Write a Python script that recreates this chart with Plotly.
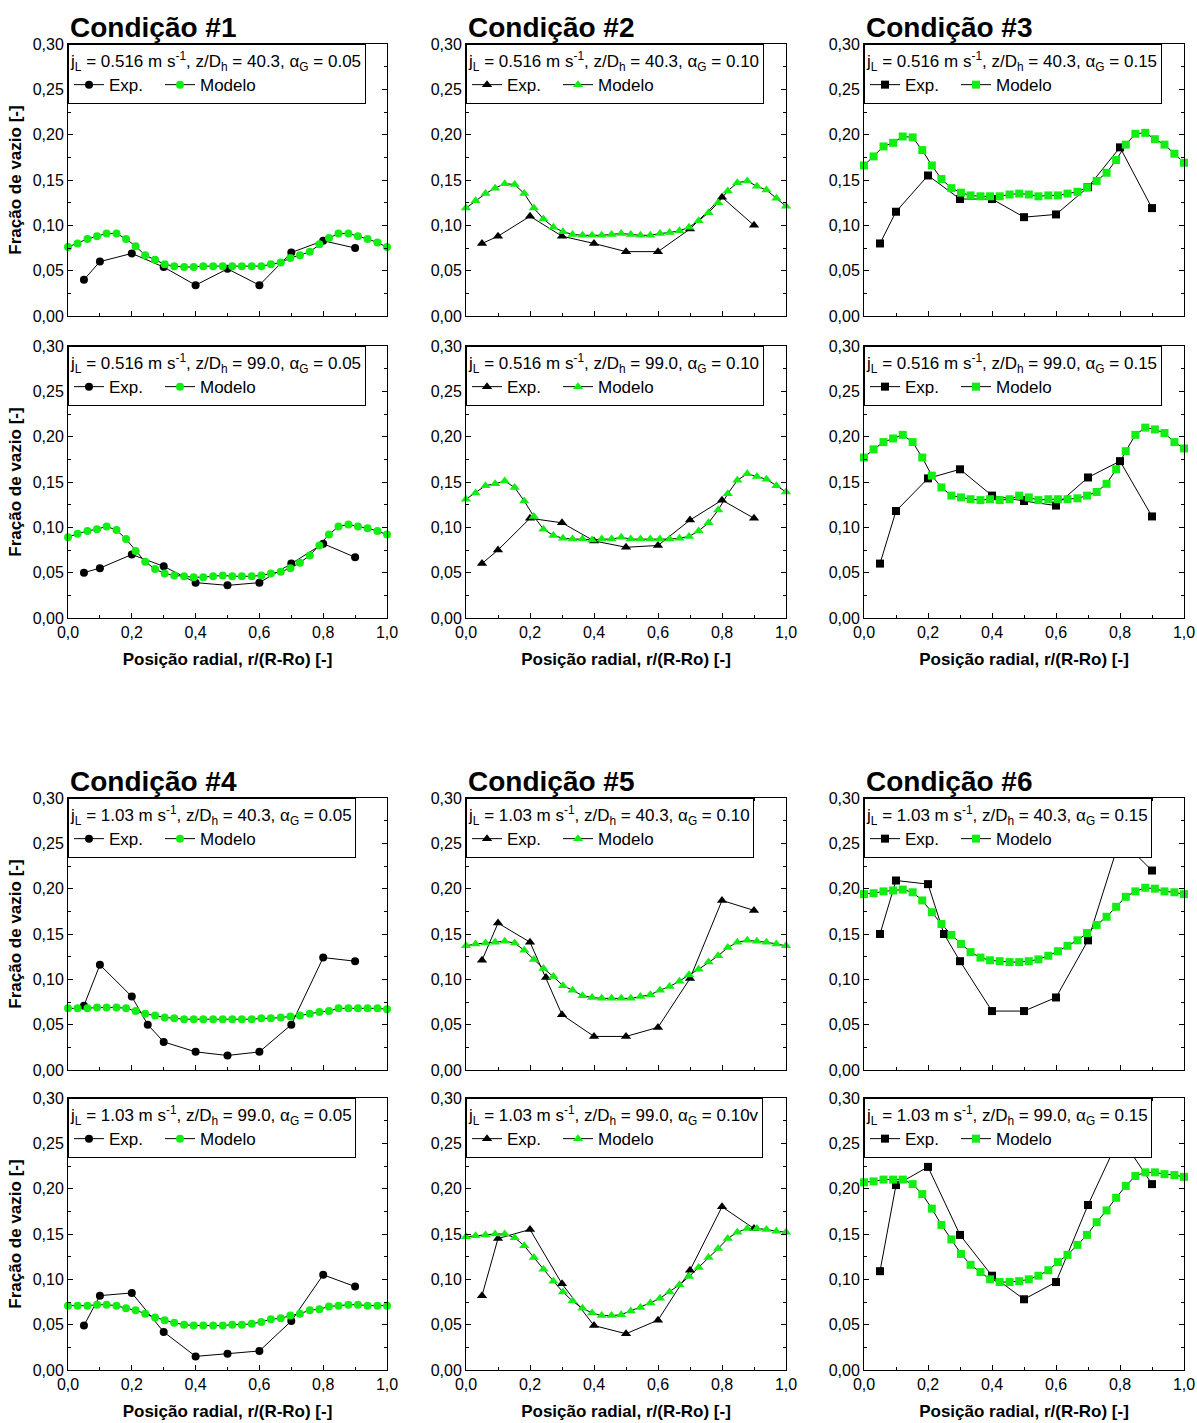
import plotly.graph_objects as go
from plotly.subplots import make_subplots

# ---------------- data ----------------
X_MODEL = [0.000, 0.030, 0.061, 0.091, 0.121, 0.152, 0.182, 0.212, 0.242, 0.273, 0.303, 0.333,
           0.364, 0.394, 0.424, 0.455, 0.485, 0.515, 0.545, 0.576, 0.606, 0.636, 0.667, 0.697,
           0.727, 0.758, 0.788, 0.818, 0.848, 0.879, 0.909, 0.939, 0.970, 1.000]
X_EXP = [0.05, 0.1, 0.2, 0.3, 0.4, 0.5, 0.6, 0.7, 0.8, 0.9]
X_EXP_B = [0.05, 0.1, 0.2, 0.25, 0.3, 0.4, 0.5, 0.6, 0.7, 0.8, 0.9]

X_TICKS = [0.0, 0.2, 0.4, 0.6, 0.8, 1.0]
Y_TICKS = [0.00, 0.05, 0.10, 0.15, 0.20, 0.25, 0.30]

C1_40_EXP = [0.040, 0.060, 0.069, 0.054, 0.034, 0.052, 0.034, 0.070, 0.083, 0.075]
C1_40_MOD = [0.076, 0.080, 0.085, 0.088, 0.091, 0.091, 0.085, 0.077, 0.067, 0.062, 0.057, 0.055,
             0.054, 0.054, 0.055, 0.055, 0.055, 0.055, 0.055, 0.055, 0.055, 0.057, 0.059, 0.064,
             0.067, 0.071, 0.079, 0.086, 0.091, 0.091, 0.088, 0.085, 0.081, 0.076]
C2_40_EXP = [0.080, 0.088, 0.110, 0.088, 0.080, 0.071, 0.071, 0.096, 0.131, 0.100]
C2_40_MOD = [0.119, 0.127, 0.135, 0.141, 0.146, 0.145, 0.135, 0.119, 0.107, 0.098, 0.093, 0.090,
             0.089, 0.089, 0.089, 0.090, 0.091, 0.090, 0.089, 0.089, 0.091, 0.092, 0.094, 0.098,
             0.105, 0.114, 0.125, 0.138, 0.147, 0.149, 0.143, 0.139, 0.130, 0.121]
C3_40_EXP = [0.080, 0.115, 0.155, 0.129, 0.129, 0.109, 0.112, 0.142, 0.186, 0.119]
C3_40_MOD = [0.166, 0.176, 0.187, 0.191, 0.198, 0.197, 0.183, 0.166, 0.151, 0.141, 0.136, 0.133,
             0.132, 0.132, 0.132, 0.134, 0.135, 0.134, 0.132, 0.133, 0.133, 0.135, 0.137, 0.142,
             0.149, 0.158, 0.172, 0.189, 0.201, 0.202, 0.195, 0.189, 0.179, 0.169]

C1_99_EXP = [0.050, 0.055, 0.070, 0.057, 0.039, 0.036, 0.039, 0.060, 0.082, 0.067]
C1_99_MOD = [0.089, 0.093, 0.096, 0.098, 0.101, 0.097, 0.087, 0.074, 0.062, 0.054, 0.049, 0.047,
             0.046, 0.045, 0.045, 0.046, 0.047, 0.046, 0.046, 0.046, 0.047, 0.049, 0.051, 0.055,
             0.061, 0.069, 0.080, 0.092, 0.101, 0.103, 0.101, 0.099, 0.096, 0.092]
C2_99_EXP = [0.060, 0.075, 0.110, 0.105, 0.085, 0.078, 0.080, 0.108, 0.130, 0.110]
C2_99_MOD = [0.131, 0.138, 0.146, 0.148, 0.151, 0.144, 0.129, 0.112, 0.098, 0.091, 0.088, 0.087,
             0.087, 0.086, 0.087, 0.087, 0.089, 0.087, 0.087, 0.087, 0.087, 0.087, 0.088, 0.090,
             0.096, 0.105, 0.119, 0.137, 0.152, 0.159, 0.156, 0.153, 0.146, 0.139]
C3_99_EXP = [0.060, 0.118, 0.154, 0.164, 0.135, 0.129, 0.124, 0.155, 0.173, 0.112]
C3_99_MOD = [0.177, 0.186, 0.194, 0.198, 0.202, 0.194, 0.177, 0.157, 0.144, 0.135, 0.133, 0.131,
             0.130, 0.131, 0.130, 0.131, 0.135, 0.133, 0.130, 0.131, 0.131, 0.131, 0.132, 0.135,
             0.139, 0.148, 0.164, 0.184, 0.202, 0.210, 0.208, 0.204, 0.194, 0.187]

C4_40_EXP = [0.071, 0.116, 0.081, 0.050, 0.031, 0.020, 0.016, 0.020, 0.050, 0.124, 0.120]
C4_40_MOD = [0.068, 0.068, 0.068, 0.069, 0.069, 0.069, 0.068, 0.065, 0.062, 0.060, 0.058, 0.057,
             0.056, 0.056, 0.056, 0.056, 0.056, 0.056, 0.056, 0.056, 0.057, 0.057, 0.058, 0.059,
             0.060, 0.062, 0.064, 0.065, 0.068, 0.068, 0.068, 0.068, 0.068, 0.067]
C5_40_EXP = [0.121, 0.162, 0.141, 0.102, 0.061, 0.037, 0.037, 0.047, 0.101, 0.187, 0.176]
C5_40_MOD = [0.137, 0.139, 0.140, 0.141, 0.142, 0.140, 0.132, 0.122, 0.112, 0.103, 0.093, 0.088,
             0.082, 0.080, 0.079, 0.079, 0.079, 0.079, 0.081, 0.083, 0.088, 0.092, 0.098, 0.105,
             0.111, 0.119, 0.126, 0.135, 0.141, 0.143, 0.142, 0.141, 0.139, 0.137]
C6_40_EXP = [0.150, 0.209, 0.205, 0.150, 0.120, 0.065, 0.065, 0.080, 0.143, 0.255, 0.220]
C6_40_MOD = [0.194, 0.195, 0.197, 0.198, 0.199, 0.196, 0.187, 0.174, 0.161, 0.149, 0.139, 0.130,
             0.124, 0.121, 0.120, 0.119, 0.119, 0.120, 0.122, 0.126, 0.131, 0.137, 0.143, 0.151,
             0.160, 0.169, 0.180, 0.191, 0.197, 0.201, 0.200, 0.197, 0.196, 0.194]

C4_99_EXP = [0.049, 0.082, 0.085, 0.042, 0.015, 0.018, 0.021, 0.054, 0.105, 0.092]
C4_99_MOD = [0.071, 0.071, 0.071, 0.072, 0.072, 0.071, 0.068, 0.066, 0.062, 0.058, 0.055, 0.052,
             0.050, 0.049, 0.049, 0.049, 0.049, 0.050, 0.050, 0.051, 0.053, 0.056, 0.057, 0.060,
             0.062, 0.066, 0.067, 0.070, 0.071, 0.072, 0.072, 0.071, 0.071, 0.071]
C5_99_EXP = [0.082, 0.145, 0.155, 0.095, 0.049, 0.040, 0.055, 0.110, 0.180, 0.156]
C5_99_MOD = [0.147, 0.148, 0.149, 0.150, 0.150, 0.146, 0.137, 0.124, 0.111, 0.098, 0.086, 0.076,
             0.068, 0.063, 0.060, 0.060, 0.061, 0.065, 0.069, 0.074, 0.079, 0.086, 0.094, 0.103,
             0.113, 0.124, 0.134, 0.145, 0.152, 0.156, 0.156, 0.155, 0.153, 0.152]
C6_99_EXP = [0.109, 0.204, 0.224, 0.149, 0.104, 0.078, 0.097, 0.182, 0.258, 0.205]
C6_99_MOD = [0.207, 0.208, 0.210, 0.210, 0.210, 0.205, 0.194, 0.178, 0.160, 0.144, 0.128, 0.116,
             0.108, 0.100, 0.097, 0.097, 0.098, 0.100, 0.104, 0.110, 0.119, 0.127, 0.138, 0.149,
             0.163, 0.176, 0.190, 0.203, 0.214, 0.218, 0.218, 0.216, 0.215, 0.213]

TITLES = ["Condição #1", "Condição #2", "Condição #3", "Condição #4", "Condição #5", "Condição #6"]
LEGEND_TITLES = [
    "j<sub>L</sub> = 0.516 m s<sup>-1</sup>, z/D<sub>h</sub> = 40.3, α<sub>G</sub> = 0.05",
    "j<sub>L</sub> = 0.516 m s<sup>-1</sup>, z/D<sub>h</sub> = 40.3, α<sub>G</sub> = 0.10",
    "j<sub>L</sub> = 0.516 m s<sup>-1</sup>, z/D<sub>h</sub> = 40.3, α<sub>G</sub> = 0.15",
    "j<sub>L</sub> = 0.516 m s<sup>-1</sup>, z/D<sub>h</sub> = 99.0, α<sub>G</sub> = 0.05",
    "j<sub>L</sub> = 0.516 m s<sup>-1</sup>, z/D<sub>h</sub> = 99.0, α<sub>G</sub> = 0.10",
    "j<sub>L</sub> = 0.516 m s<sup>-1</sup>, z/D<sub>h</sub> = 99.0, α<sub>G</sub> = 0.15",
    "j<sub>L</sub> = 1.03 m s<sup>-1</sup>, z/D<sub>h</sub> = 40.3, α<sub>G</sub> = 0.05",
    "j<sub>L</sub> = 1.03 m s<sup>-1</sup>, z/D<sub>h</sub> = 40.3, α<sub>G</sub> = 0.10",
    "j<sub>L</sub> = 1.03 m s<sup>-1</sup>, z/D<sub>h</sub> = 40.3, α<sub>G</sub> = 0.15",
    "j<sub>L</sub> = 1.03 m s<sup>-1</sup>, z/D<sub>h</sub> = 99.0, α<sub>G</sub> = 0.05",
    "j<sub>L</sub> = 1.03 m s<sup>-1</sup>, z/D<sub>h</sub> = 99.0, α<sub>G</sub> = 0.10v",
    "j<sub>L</sub> = 1.03 m s<sup>-1</sup>, z/D<sub>h</sub> = 99.0, α<sub>G</sub> = 0.15",
]
Y_TITLE = "Fração de vazio [-]"
X_TITLE = "Posição radial, r/(R-Ro) [-]"

PANELS = [
    (X_EXP, C1_40_EXP, C1_40_MOD), (X_EXP, C2_40_EXP, C2_40_MOD), (X_EXP, C3_40_EXP, C3_40_MOD),
    (X_EXP, C1_99_EXP, C1_99_MOD), (X_EXP, C2_99_EXP, C2_99_MOD), (X_EXP, C3_99_EXP, C3_99_MOD),
    (X_EXP_B, C4_40_EXP, C4_40_MOD), (X_EXP_B, C5_40_EXP, C5_40_MOD), (X_EXP_B, C6_40_EXP, C6_40_MOD),
    (X_EXP, C4_99_EXP, C4_99_MOD), (X_EXP, C5_99_EXP, C5_99_MOD), (X_EXP, C6_99_EXP, C6_99_MOD),
]

# ---------------- layout geometry ----------------
W, H = 1197, 1423
COL_PX = [(68, 387), (466, 786), (864, 1184)]
ROW_PX = [(44, 316), (346, 618), (798, 1070), (1098, 1370)]
SYMBOLS = ["circle", "triangle-up", "square"]
SIZES = [8, 9, 8]
GREEN = "#11ee11"
FONT = "Liberation Sans, Arial, sans-serif"

fig = make_subplots(rows=4, cols=3)

for k, (xe, ye, ym) in enumerate(PANELS):
    r, c = divmod(k, 3)
    leg = "legend" if k == 0 else f"legend{k + 1}"
    fig.add_trace(go.Scatter(x=xe, y=ye, mode="lines+markers", name="Exp.",
                             line=dict(color="black", width=1),
                             marker=dict(symbol=SYMBOLS[c], size=SIZES[c], color="black"),
                             cliponaxis=False, legend=leg), row=r + 1, col=c + 1)
    fig.add_trace(go.Scatter(x=X_MODEL, y=ym, mode="lines+markers", name="Modelo",
                             line=dict(color="black", width=1),
                             marker=dict(symbol=SYMBOLS[c], size=SIZES[c], color=GREEN),
                             cliponaxis=False, legend=leg), row=r + 1, col=c + 1)

    x0, x1 = COL_PX[c]
    y0, y1 = ROW_PX[r]
    xs = "xaxis" if k == 0 else f"xaxis{k + 1}"
    ys = "yaxis" if k == 0 else f"yaxis{k + 1}"
    bottom = r in (1, 3)
    fig.layout[xs].update(
        domain=[x0 / W, x1 / W], range=[0, 1], tickmode="array", tickvals=X_TICKS,
        tickformat=".1f", ticks="inside", ticklen=5, tickcolor="black", showline=True,
        linecolor="black", linewidth=1, mirror="allticks", showgrid=False, zeroline=False,
        showticklabels=bottom, tickfont=dict(family=FONT, size=16, color="black"),
        minor=dict(ticks="inside", ticklen=3, tickcolor="black", dtick=0.1, tick0=0, showgrid=False),
        title=dict(text=X_TITLE if bottom else "", font=dict(family=FONT, size=17, color="black", weight="bold"),
                   standoff=12),
        automargin=False,
    )
    fig.layout[ys].update(
        domain=[1 - y1 / H, 1 - y0 / H], range=[0, 0.30], tickmode="array", tickvals=Y_TICKS,
        tickformat=".2f", ticks="inside", ticklen=5, tickcolor="black", showline=True,
        linecolor="black", linewidth=1, mirror="allticks", showgrid=False, zeroline=False,
        tickfont=dict(family=FONT, size=16, color="black"),
        minor=dict(ticks="inside", ticklen=3, tickcolor="black", dtick=0.025, tick0=0, showgrid=False),
        title=dict(text=Y_TITLE if c == 0 else "", font=dict(family=FONT, size=17, color="black", weight="bold"),
                   standoff=6),
        automargin=False,
    )
    fig.layout[leg] = dict(
        x=x0 / W, y=1 - y0 / H,
        xanchor="left", yanchor="top", orientation="h",
        bgcolor="white", bordercolor="black", borderwidth=1,
        font=dict(family=FONT, size=17, color="black"),
        title=dict(text=LEGEND_TITLES[k], side="top", font=dict(family=FONT, size=17, color="black")),
        itemwidth=30, tracegroupgap=0, entrywidth=46, entrywidthmode="pixels",
    )

for i, t in enumerate(TITLES):
    r = 0 if i < 3 else 2
    c = i % 3
    fig.add_annotation(text=t, x=COL_PX[c][0] / W, y=1 - (ROW_PX[r][0] - 17) / H,
                       xref="paper", yref="paper", xanchor="left", yanchor="middle",
                       showarrow=False, font=dict(family=FONT, size=28, color="black", weight="bold"))

fig.update_layout(width=W, height=H, margin=dict(l=0, r=0, t=0, b=0),
                  paper_bgcolor="white", plot_bgcolor="white", separators=",.",
                  showlegend=True, font=dict(family=FONT, color="black"))

fig.write_html("out.html")
